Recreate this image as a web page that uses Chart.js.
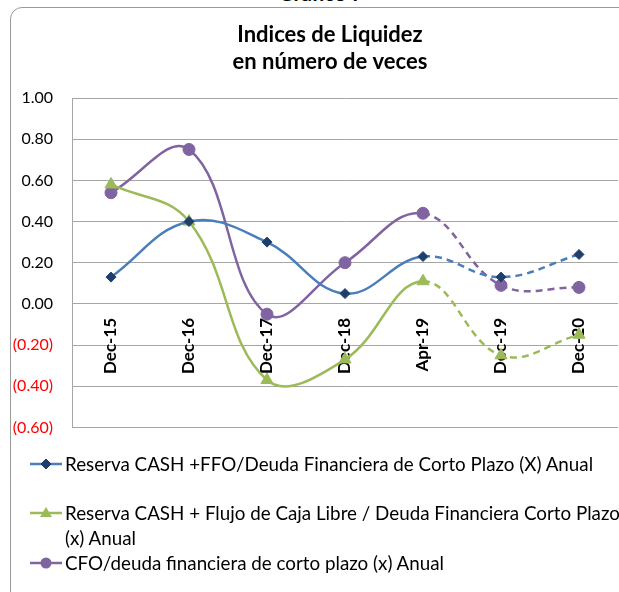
<!DOCTYPE html>
<html>
<head>
<meta charset="utf-8">
<title>Indices de Liquidez</title>
<script src="https://cdn.jsdelivr.net/npm/chart.js@4.4.0/dist/chart.umd.min.js"></script>
<style>
    html, body {
        margin: 0;
        padding: 0;
        background: #fff;
    }
    body {
        width: 619px;
        height: 592px;
        overflow: hidden;
        position: relative;
        font-family: Lato, 'Liberation Sans', sans-serif;
    }
    #heading {
        position: absolute;
        left: 0;
        top: -20px;
        width: 642px;
        text-align: center;
        font: bold 21px Lato, sans-serif;
        color: #000;
    }
    #frame {
        position: absolute;
        left: 10px;
        top: 7px;
        width: 660px;
        height: 640px;
        border: 1.5px solid #999;
        border-radius: 12px;
        box-sizing: border-box;
    }
    #chart-box {
        position: absolute;
        left: 11px;
        top: 9px;
        width: 638px;
        height: 447px;
    }
    #legend {
        position: absolute;
        left: 30px;
        top: 451px;
        width: 600px;
        font-size: 18.8px;
        line-height: 25px;
        color: #000;
    }
    .legend-item {
        display: flex;
        align-items: flex-start;
    }
    .legend-item svg {
        flex: 0 0 auto;
        margin-right: 3px;
    }
    .legend-item span {
        flex: 0 0 auto;
        width: 565px;
    }
</style>
</head>
<body>
<div id="heading">Gráfico 7</div>
<div id="frame"></div>
<div id="chart-box"><canvas id="liquidez-chart"></canvas></div>
<div id="legend"></div>

<script>
// Categories (x axis)
const categories = ['Dec-15', 'Dec-16', 'Dec-17', 'Dec-18', 'Apr-19', 'Dec-19', 'Dec-20'];

// Series values
const cashFfo = [0.13, 0.40, 0.30, 0.05, 0.23, 0.13, 0.24];
const cashFcl = [0.58, 0.40, -0.37, -0.27, 0.11, -0.25, -0.15];
const cfoDeuda = [0.54, 0.75, -0.05, 0.20, 0.44, 0.09, 0.08];

const seriesNames = [
    'Reserva CASH +FFO/Deuda Financiera de Corto Plazo (X) Anual',
    'Reserva CASH + Flujo de Caja Libre / Deuda Financiera Corto Plazo (x) Anual',
    'CFO/deuda financiera de corto plazo (x) Anual'
];

// Y axis ticks
const yMin = -0.6;
const yMax = 1.0;
const yStep = 0.2;

// Lines turn dashed from this category on (projections)
const dashFrom = 4;

const colors = {
    blue: '#4a7ebb',
    navy: '#1f3f6a',
    green: '#9bbb59',
    purple: '#8064a2'
};

/**
 * Build one line dataset
 */
function lineDataset(label, data, lineColor, pointColor, pointStyle, radius) {
    return {
        label: label,
        data: data,
        borderColor: lineColor,
        backgroundColor: pointColor,
        pointBorderColor: pointColor,
        pointBackgroundColor: pointColor,
        pointStyle: pointStyle,
        pointRadius: radius,
        pointHoverRadius: radius,
        pointBorderWidth: 1,
        borderWidth: 2.5,
        tension: 0.4,
        fill: false,
        segment: {
            borderDash: ctx => ctx.p0DataIndex >= dashFrom ? [7, 5] : undefined
        }
    };
}

const datasets = [
    lineDataset(seriesNames[0], cashFfo, colors.blue, colors.navy, 'rectRot', 5),
    lineDataset(seriesNames[1], cashFcl, colors.green, colors.green, 'triangle', 7),
    lineDataset(seriesNames[2], cfoDeuda, colors.purple, colors.purple, 'circle', 6)
];

function formatTick(value) {
    if (value < -1e-9) {
        return '(' + Math.abs(value).toFixed(2) + ')';
    }
    return Math.abs(value).toFixed(2);
}

const ctx = document.getElementById('liquidez-chart').getContext('2d');

const liquidezChart = new Chart(ctx, {
    type: 'line',
    data: {
        labels: categories,
        datasets: datasets
    },
    options: {
        responsive: true,
        maintainAspectRatio: false,
        animation: false,
        layout: {
            padding: { left: 0, right: 0, top: 0, bottom: 0 }
        },
        plugins: {
            legend: { display: false },
            tooltip: { enabled: false },
            title: {
                display: true,
                text: ['Indices de Liquidez', 'en número de veces'],
                color: '#000',
                font: { family: 'Lato, sans-serif', size: 22, weight: 'bold', lineHeight: 1.25 },
                padding: { top: 12, bottom: 22 }
            }
        },
        scales: {
            x: {
                offset: true,
                position: { y: 0 },
                grid: { display: false, drawTicks: false },
                border: { display: false },
                ticks: {
                    autoSkip: false,
                    minRotation: 90,
                    maxRotation: 90,
                    padding: 14,
                    color: '#000',
                    font: { family: 'Lato, sans-serif', size: 17, weight: 'bold' }
                }
            },
            y: {
                min: yMin,
                max: yMax,
                afterFit: scale => { scale.width = 61; },
                grid: {
                    color: '#a6a6a6',
                    lineWidth: 1,
                    drawTicks: false
                },
                border: { display: true, color: '#a6a6a6', width: 1 },
                ticks: {
                    stepSize: yStep,
                    padding: 19,
                    callback: value => formatTick(value),
                    color: c => c.tick && c.tick.value < -1e-9 ? '#ff0000' : '#000',
                    font: { family: 'Lato, sans-serif', size: 16 }
                }
            },
            // empty right axis only to keep the plot clear of the frame's right side
            yRight: {
                position: 'right',
                min: yMin,
                max: yMax,
                afterFit: scale => { scale.width = 31; },
                grid: { display: false, drawTicks: false },
                border: { display: false },
                ticks: { display: false }
            }
        }
    }
});

/**
 * Legend drawn as HTML so the long label can wrap like the original
 */
function markerSvg(style, lineColor, pointColor) {
    let mark = '';
    if (style === 'rectRot') {
        mark = `<polygon points="16,8 21,13 16,18 11,13" fill="${pointColor}" stroke="${pointColor}"/>`;
    } else if (style === 'triangle') {
        mark = `<polygon points="16,7 22,17 10,17" fill="${pointColor}"/>`;
    } else {
        mark = `<circle cx="16" cy="13" r="5.5" fill="${pointColor}"/>`;
    }
    return `<svg width="32" height="25" viewBox="0 0 32 25">
        <line x1="0" y1="13" x2="32" y2="13" stroke="${lineColor}" stroke-width="2.5"/>
        ${mark}
    </svg>`;
}

const legendGaps = [24, 0, 0];
document.getElementById('legend').innerHTML = liquidezChart.data.datasets.map((ds, i) => `
    <div class="legend-item" style="margin-bottom:${legendGaps[i]}px">
        ${markerSvg(ds.pointStyle, ds.borderColor, ds.pointBackgroundColor)}
        <span>${ds.label}</span>
    </div>
`).join('');
</script>
</body>
</html>
